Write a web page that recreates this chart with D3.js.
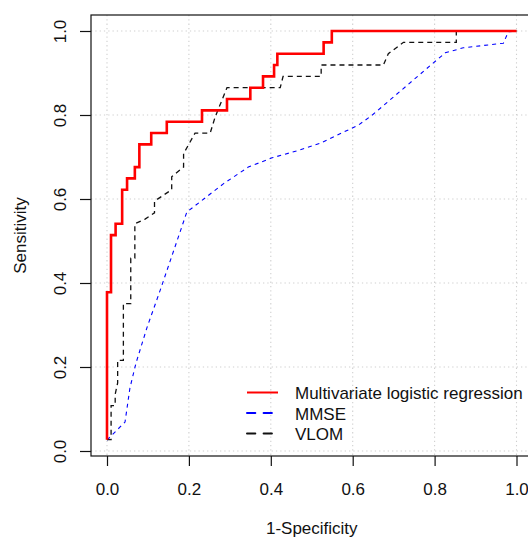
<!DOCTYPE html>
<html>
<head>
<meta charset="utf-8">
<script src="https://cdn.jsdelivr.net/npm/d3@7"></script>
<style>
  body { margin: 0; background: #fff; }
  text { font-family: "Liberation Sans", Arial, sans-serif; fill: #111; }
</style>
</head>
<body>
<script>
// ROC curves (1-specificity, sensitivity)
var logitFpr = [0, 0, 0.0098, 0.0098, 0.021, 0.021, 0.037, 0.037, 0.049, 0.049, 0.068, 0.068,
  0.079, 0.079, 0.108, 0.108, 0.146, 0.146, 0.232, 0.232, 0.293, 0.293, 0.350, 0.350,
  0.381, 0.381, 0.408, 0.408, 0.416, 0.416, 0.529, 0.529, 0.549, 0.549, 1.0]
var logitTpr = [0.027, 0.378, 0.378, 0.514, 0.514, 0.541, 0.541, 0.622, 0.622, 0.649, 0.649, 0.676,
  0.676, 0.730, 0.730, 0.757, 0.757, 0.784, 0.784, 0.811, 0.811, 0.838, 0.838, 0.865,
  0.865, 0.892, 0.892, 0.919, 0.919, 0.946, 0.946, 0.973, 0.973, 1.0, 1.0]

var mmseFpr = [0, 0.044, 0.056, 0.071, 0.098, 0.130, 0.195, 0.227, 0.284, 0.345, 0.403,
  0.472, 0.521, 0.614, 0.648, 0.797, 0.826, 0.870, 0.968, 0.980, 1.0]
var mmseTpr = [0.026, 0.069, 0.150, 0.210, 0.295, 0.383, 0.569, 0.593, 0.636, 0.676, 0.698,
  0.717, 0.733, 0.776, 0.800, 0.924, 0.948, 0.960, 0.971, 0.998, 1.0]

var vlomFpr = [0, 0.010, 0.010, 0.020, 0.020, 0.026, 0.026, 0.040, 0.040, 0.058, 0.058, 0.068,
  0.068, 0.093, 0.116, 0.116, 0.158, 0.158, 0.187, 0.187, 0.215, 0.252, 0.264, 0.293,
  0.423, 0.430, 0.523, 0.523, 0.675, 0.687, 0.724, 0.853, 0.853, 1.0]
var vlomTpr = [0.027, 0.027, 0.108, 0.108, 0.135, 0.162, 0.216, 0.216, 0.351, 0.351, 0.459, 0.459,
  0.541, 0.552, 0.567, 0.595, 0.622, 0.653, 0.676, 0.708, 0.757, 0.757, 0.795, 0.865,
  0.865, 0.892, 0.892, 0.919, 0.919, 0.946, 0.973, 0.973, 1.0, 1.0]

var ticks = [0, 0.2, 0.4, 0.6, 0.8, 1.0]
var legendLabels = ["Multivariate logistic regression", "MMSE", "VLOM"]

var svg = d3.select("body").append("svg")
  .attr("width", 528)
  .attr("height", 538)

var x = d3.scaleLinear().domain([0, 1]).range([107, 516.5])
var y = d3.scaleLinear().domain([0, 1]).range([451, 31])

var box = {left: 91, top: 15, right: 532.5, bottom: 456}

// grid, dotted light grey
svg.selectAll("line.vgrid")
  .data(ticks)
  .enter()
  .append("line")
  .attr("x1", function(d){ return x(d) })
  .attr("x2", function(d){ return x(d) })
  .attr("y1", box.top)
  .attr("y2", box.bottom)
  .attr("stroke", "#cfcfcf")
  .attr("stroke-width", 1.1)
  .attr("stroke-dasharray", "1.3,3")

svg.selectAll("line.hgrid")
  .data(ticks)
  .enter()
  .append("line")
  .attr("x1", box.left)
  .attr("x2", box.right)
  .attr("y1", function(d){ return y(d) })
  .attr("y2", function(d){ return y(d) })
  .attr("stroke", "#cfcfcf")
  .attr("stroke-width", 1.1)
  .attr("stroke-dasharray", "1.3,3")

function pts(fx, fy){
  return fx.map(function(v, i){ return [v, fy[i]] })
}

var line = d3.line()
  .x(function(d){ return x(d[0]) })
  .y(function(d){ return y(d[1]) })

svg.append("path")
  .attr("d", line(pts(mmseFpr, mmseTpr)))
  .attr("fill", "none")
  .attr("stroke", "#0000ff")
  .attr("stroke-width", 1.1)
  .attr("stroke-dasharray", "4,4")

svg.append("path")
  .attr("d", line(pts(vlomFpr, vlomTpr)))
  .attr("fill", "none")
  .attr("stroke", "#111")
  .attr("stroke-width", 1.3)
  .attr("stroke-dasharray", "5,4")

svg.append("path")
  .attr("d", line(pts(logitFpr, logitTpr)))
  .attr("fill", "none")
  .attr("stroke", "#ff0000")
  .attr("stroke-width", 2.6)

// box
svg.append("rect")
  .attr("x", box.left)
  .attr("y", box.top)
  .attr("width", box.right - box.left)
  .attr("height", box.bottom - box.top)
  .attr("fill", "none")
  .attr("stroke", "#111")
  .attr("stroke-width", 1.2)

// axes
var xAxis = svg.append("g")
  .attr("transform", "translate(0," + box.bottom + ")")
  .call(d3.axisBottom(x).tickValues(ticks).tickSize(10).tickFormat(d3.format(".1f")))
xAxis.select(".domain").remove()
xAxis.selectAll("line").attr("stroke", "#111").attr("stroke-width", 1.2)
xAxis.selectAll("text")
  .attr("y", 39)
  .attr("dy", 0)
  .attr("font-size", 17)
  .attr("font-family", "Liberation Sans, Arial, sans-serif")
  .attr("fill", "#111")

var yAxis = svg.append("g")
  .attr("transform", "translate(" + box.left + ",0)")
  .call(d3.axisLeft(y).tickValues(ticks).tickSize(11).tickFormat(d3.format(".1f")))
yAxis.select(".domain").remove()
yAxis.selectAll("line").attr("stroke", "#111").attr("stroke-width", 1.2)
yAxis.selectAll("text")
  .attr("x", 0)
  .attr("dy", 0)
  .attr("text-anchor", "middle")
  .attr("transform", "translate(-25,0) rotate(-90)")
  .attr("font-size", 17)
  .attr("font-family", "Liberation Sans, Arial, sans-serif")
  .attr("fill", "#111")

// axis titles
svg.append("text")
  .attr("x", (box.left + box.right) / 2)
  .attr("y", 534)
  .attr("text-anchor", "middle")
  .attr("font-size", 17)
  .text("1-Specificity")

svg.append("text")
  .attr("transform", "translate(25.5," + (box.top + box.bottom) / 2 + ") rotate(-90)")
  .attr("text-anchor", "middle")
  .attr("font-size", 17)
  .text("Sensitivity")

// legend, no frame
var legendColors = ["#ff0000", "#0000ff", "#111"]
var legendDash = [null, "8.3,8.3", "8.3,8.3"]
var legendY = [392.5, 413, 433.5]

svg.selectAll("line.legend")
  .data(legendLabels)
  .enter()
  .append("line")
  .attr("x1", 247)
  .attr("x2", 278)
  .attr("y1", function(d, i){ return legendY[i] })
  .attr("y2", function(d, i){ return legendY[i] })
  .attr("stroke", function(d, i){ return legendColors[i] })
  .attr("stroke-width", 2)
  .attr("stroke-linecap", function(d, i){ return i ? "round" : "butt" })
  .attr("stroke-dasharray", function(d, i){ return legendDash[i] })

svg.selectAll("text.legend")
  .data(legendLabels)
  .enter()
  .append("text")
  .attr("x", 295)
  .attr("y", function(d, i){ return legendY[i] + 6.5 })
  .attr("font-size", 17)
  .text(function(d){ return d })
</script>
</body>
</html>
